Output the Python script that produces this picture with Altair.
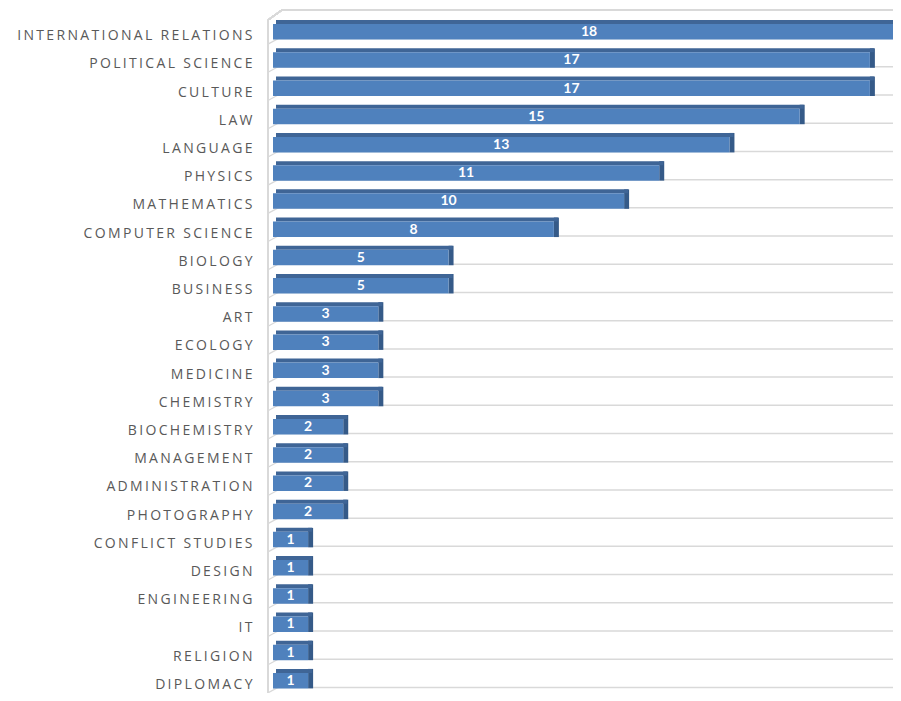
import altair as alt
import pandas as pd

categories = ["INTERNATIONAL RELATIONS", "POLITICAL SCIENCE", "CULTURE", "LAW", "LANGUAGE",
              "PHYSICS", "MATHEMATICS", "COMPUTER SCIENCE", "BIOLOGY", "BUSINESS", "ART",
              "ECOLOGY", "MEDICINE", "CHEMISTRY", "BIOCHEMISTRY", "MANAGEMENT",
              "ADMINISTRATION", "PHOTOGRAPHY", "CONFLICT STUDIES", "DESIGN", "ENGINEERING",
              "IT", "RELIGION", "DIPLOMACY"]
values = [18, 17, 17, 15, 13, 11, 10, 8, 5, 5, 3, 3, 3, 3, 2, 2, 2, 2, 1, 1, 1, 1, 1, 1]

df = pd.DataFrame({"category": categories, "value": values})

W = 620
H = 671
XR = 632
YR = 677

yenc = alt.Y("category:N", sort=categories,
             scale=alt.Scale(range=[0, YR], paddingInner=0, paddingOuter=0),
             axis=alt.Axis(title=None, ticks=False, domain=False, grid=False,
                           labelFont="Open Sans", labelFontSize=14, labelColor="#595959",
                           labelPadding=21, labelLimit=400,
                           labelExpr="join(split(datum.label, ''), '\u2009')"))
xscale = alt.Scale(domain=[0, 18], range=[0, XR])

base = alt.Chart(df).transform_calculate(zero="0", mid="datum.value / 2")

grid = base.mark_rule(color="#d9d9d9", strokeWidth=1.5, yOffset=2.5).encode(
    y=yenc, x=alt.value(0), x2=alt.value(W))

diag = base.mark_rule(color="#d9d9d9", strokeWidth=1.2, yOffset=8, y2Offset=2).encode(
    y=yenc, y2=alt.Y2("category:N"), x=alt.value(-5), x2=alt.value(6))

side = base.mark_bar(color="#355a88", height=19.5, yOffset=-6.25, x2Offset=5).encode(
    y=yenc, x=alt.X("value:Q", scale=xscale, axis=None), x2="value:Q")

top = base.mark_bar(color="#3f6596", height=4, yOffset=-14, xOffset=3, x2Offset=4).encode(
    y=yenc, x=alt.X("zero:Q", scale=xscale, axis=None), x2="value:Q")

front = base.mark_bar(color="#4f81bd", height=15.5, yOffset=-4.25).encode(
    y=yenc, x=alt.X("zero:Q", scale=xscale, axis=None), x2="value:Q")

labels = base.mark_text(color="white", font="Lato", fontWeight="bold", fontSize=14,
                        yOffset=-4).encode(
    y=yenc, x=alt.X("mid:Q", scale=xscale, axis=None), text="value:Q")

frame = alt.Chart(df).mark_rule(color="#d9d9d9", strokeWidth=1.5)
topline = frame.encode(x=alt.value(9), x2=alt.value(W), y=alt.value(-12))
topdiag = frame.encode(x=alt.value(-5), x2=alt.value(9), y=alt.value(-2), y2=alt.value(-12))
leftline = frame.encode(x=alt.value(-5), y=alt.value(-2), y2=alt.value(YR + 20))

chart = alt.layer(grid, diag, topline, topdiag, leftline, side, top, front, labels).properties(
    width=W, height=H,
    autosize=alt.AutoSizeParams(type="none"),
    padding={"left": 265, "top": 14, "right": 0, "bottom": 0},
).configure_view(stroke=None)

chart.save("out.html", embed_options={"renderer": "svg", "actions": False})
